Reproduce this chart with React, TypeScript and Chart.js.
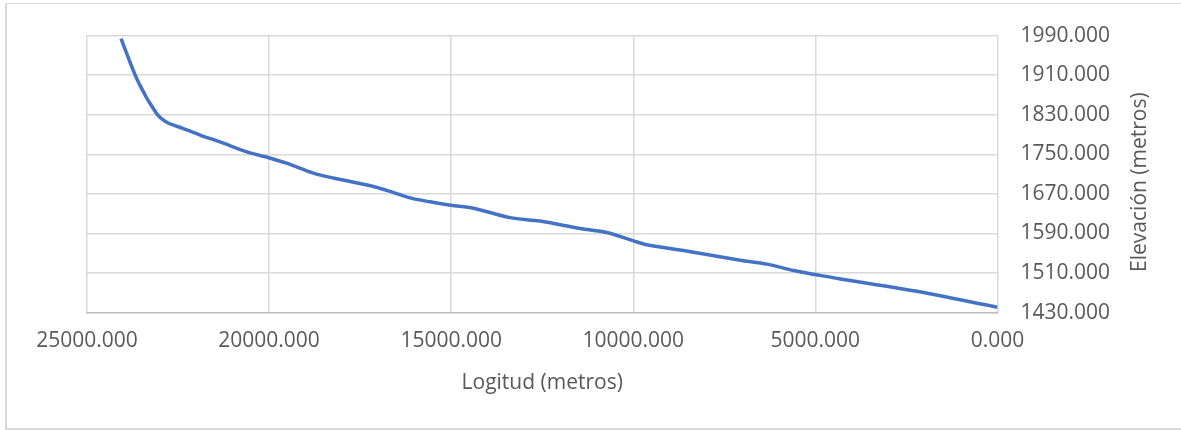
import React, { useEffect, useRef } from "react";
import { Chart, registerables } from "chart.js";

Chart.register(...registerables);

const distances = [24066, 23591, 23085, 22811, 22355, 21896, 21346, 20613, 20010, 19516, 18784, 18234, 17136, 16770, 16130, 15580, 15012, 14388, 13380, 12556, 11457, 10724, 9992, 9626, 8344, 7062, 6329, 5597, 5000, 4313, 2300, 0];
const elevations = [1984, 1896, 1832, 1815, 1802, 1789, 1775, 1755, 1743, 1732, 1712, 1702, 1685, 1677, 1662, 1654, 1647, 1641, 1622, 1615, 1600, 1592, 1575, 1567, 1552, 1536, 1528, 1515, 1507, 1498, 1474, 1441];

const xTitle = "Logitud (metros)";
const yTitle = "Elevación (metros)";
const xMin = 0;
const xMax = 25000;
const xStep = 5000;
const yMin = 1430;
const yMax = 1990;
const yStep = 80;

const FONT = "'Open Sans', 'Noto Sans', sans-serif";
const TEXT = "#595959";
const FS = 21;

const rightTitlePlugin = {
  id: "rightTitle",
  afterDraw(chart: any) {
    const { ctx, chartArea } = chart;
    ctx.save();
    ctx.fillStyle = TEXT;
    ctx.font = `${FS}px ${FONT}`;
    ctx.textAlign = "center";
    ctx.textBaseline = "middle";
    ctx.translate(1140, (chartArea.top + chartArea.bottom) / 2 + 8);
    ctx.rotate(-Math.PI / 2);
    ctx.fillText(yTitle, 0, 0);
    ctx.restore();
  },
};

export default function App() {
  const ref = useRef<HTMLCanvasElement | null>(null);

  useEffect(() => {
    document.body.style.margin = "0";
    const canvas = ref.current;
    if (!canvas) return;
    const points = distances.map((d, i) => ({ x: d, y: elevations[i] }));
    const chart = new Chart(canvas, {
      type: "line",
      data: {
        datasets: [
          {
            data: points,
            borderColor: "#4472C4",
            backgroundColor: "#4472C4",
            borderWidth: 3.5,
            pointRadius: 0,
            tension: 0.3,
            fill: false,
          },
        ],
      },
      options: {
        animation: false,
        responsive: false,
        maintainAspectRatio: false,
        layout: { padding: { left: 87, top: 33, right: 48, bottom: 34 } },
        plugins: { legend: { display: false }, tooltip: { enabled: false } },
        scales: {
          x: {
            type: "linear",
            reverse: true,
            min: xMin,
            max: xMax,
            ticks: {
              stepSize: xStep,
              color: TEXT,
              font: { family: FONT, size: FS },
              padding: 16,
              maxRotation: 0,
              callback: (v: any) => Number(v).toFixed(3),
            },
            grid: { color: "#d9d9d9", lineWidth: 1.5, drawTicks: false },
            border: { color: "#bfbfbf", width: 1.5 },
            title: {
              display: true,
              text: xTitle,
              color: TEXT,
              font: { family: FONT, size: FS },
              padding: { top: 1, bottom: 0 },
            },
          },
          y: {
            type: "linear",
            position: "right",
            min: yMin,
            max: yMax,
            ticks: {
              stepSize: yStep,
              color: TEXT,
              font: { family: FONT, size: FS },
              padding: 23,
              callback: (v: any) => Number(v).toFixed(3),
            },
            grid: { color: "#d9d9d9", lineWidth: 1.5, drawTicks: false },
            border: { display: false },
          },
        },
      },
      plugins: [rightTitlePlugin],
    });
    return () => chart.destroy();
  }, []);

  return (
    <div style={{ position: "relative", width: 1181, height: 430, background: "#fff", fontFamily: FONT }}>
      <div
        style={{
          position: "absolute",
          left: 5,
          top: 3,
          width: 1200,
          height: 424,
          borderTop: "1.5px solid #d9d9d9",
          borderLeft: "2px solid #d9d9d9",
          borderBottom: "2px solid #d9d9d9",
          pointerEvents: "none",
        }}
      />
      <canvas ref={ref} width={1181} height={430} style={{ position: "absolute", left: 0, top: 0, display: "block" }} />
    </div>
  );
}
